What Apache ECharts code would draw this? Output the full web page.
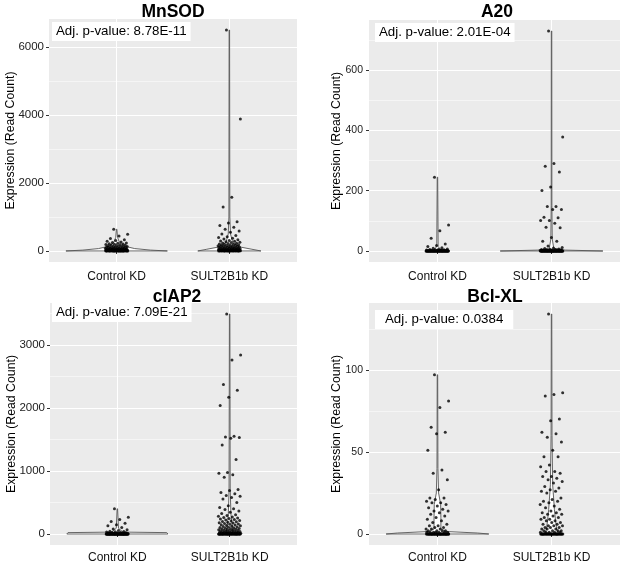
<!DOCTYPE html>
<html><head><meta charset="utf-8">
<script src="https://cdn.jsdelivr.net/npm/echarts@6/dist/echarts.min.js"></script>
<style>html,body{margin:0;padding:0;background:#fff}#c{width:625px;height:566px}</style>
</head><body><div id="c"></div>
<script>
// ---------------- data ----------------
const categories = ['Control KD', 'SULT2B1b KD'];
const geneNames = ['MnSOD', 'A20', 'cIAP2', 'Bcl-XL'];
const pValueLabels = ['Adj. p-value: 8.78E-11', 'Adj. p-value: 2.01E-04', 'Adj. p-value: 7.09E-21', 'Adj. p-value: 0.0384'];
const yAxisTitle = 'Expression (Read Count)';

const mnsodTicks = [0, 2000, 4000, 6000];
const mnsodMinor = [1000, 3000, 5000];
const a20Ticks = [0, 200, 400, 600];
const a20Minor = [100, 300, 500, 700];
const ciap2Ticks = [0, 1000, 2000, 3000];
const ciap2Minor = [500, 1500, 2500, 3500];
const bclTicks = [0, 50, 100];
const bclMinor = [25, 75, 125];

const mnsodControl = [640, 495, 440, 365, 330, 305, 285, 262, 248, 236, 225, 214, 205, 196, 188, 180, 172, 166, 158, 152, 146, 140, 134, 128, 123, 118, 113, 108, 104, 100, 96, 92, 88, 85, 82, 78, 75, 72, 69, 66, 63, 60, 58, 55, 53, 50, 48, 46, 44, 42, 40, 38, 36, 34, 33, 31, 30, 28, 27, 25, 24, 23, 21, 20, 19, 18, 17, 16, 15, 14, 13, 12, 11, 10, 10, 9, 8, 8, 7, 6, 6, 5, 5, 4, 4, 3, 3, 3, 2, 2, 2, 1, 1, 1, 1, 0, 0, 0, 0, 0, 0, 0, 0, 0, 0];
const mnsodSult = [6500, 3880, 1580, 1290, 860, 820, 750, 700, 640, 590, 550, 500, 455, 420, 395, 375, 350, 330, 310, 295, 282, 270, 258, 246, 236, 226, 216, 208, 200, 192, 185, 178, 172, 166, 160, 154, 148, 143, 138, 133, 128, 123, 118, 114, 110, 106, 102, 98, 94, 90, 86, 82, 78, 75, 72, 68, 65, 62, 59, 56, 53, 50, 48, 45, 43, 40, 38, 36, 34, 32, 30, 28, 26, 24, 22, 20, 19, 17, 16, 14, 13, 12, 11, 10, 9, 8, 7, 6, 5, 5, 4, 4, 3, 3, 2, 2, 1, 1, 1, 0, 0, 0, 0, 0, 0, 0, 0, 0];
const a20Control = [245, 86, 67, 42, 23, 18, 15, 11, 9, 7, 6, 5, 4, 4, 3, 3, 2, 2, 2, 1, 1, 1, 1, 1, 1, 0, 0, 0, 0, 0, 0, 0, 0, 0, 0, 0, 0, 0, 0, 0, 0, 0, 0, 0, 0, 0, 0, 0, 0, 0, 0, 0, 0, 0, 0, 0, 0, 0, 0, 0, 0, 0, 0, 0, 0, 0, 0, 0, 0, 0, 0, 0, 0, 0, 0, 0, 0, 0, 0, 0];
const a20Sult = [730, 378, 290, 281, 262, 212, 201, 148, 148, 138, 138, 112, 110, 101, 101, 92, 79, 77, 45, 32, 32, 17, 12, 10, 8, 7, 6, 5, 5, 4, 4, 3, 3, 3, 2, 2, 2, 2, 1, 1, 1, 1, 1, 1, 0, 0, 0, 0, 0, 0, 0, 0, 0, 0, 0, 0, 0, 0, 0, 0, 0, 0, 0, 0, 0, 0, 0, 0, 0, 0, 0, 0, 0, 0, 0, 0, 0, 0, 0, 0, 0, 0, 0, 0, 0, 0, 0, 0, 0, 0, 0, 0, 0, 0, 0, 0, 0, 0, 0, 0];
const ciap2Control = [400, 265, 230, 200, 170, 145, 130, 105, 80, 68, 55, 45, 40, 35, 30, 27, 24, 21, 18, 15, 13, 11, 9, 8, 6, 5, 4, 3, 3, 2, 2, 1, 1, 1, 0, 0, 0, 0, 0, 0, 0, 0, 0, 0, 0, 0, 0, 0, 0, 0, 0, 0, 0, 0, 0, 0, 0, 0, 0, 0, 0, 0, 0, 0, 0, 0, 0, 0, 0, 0, 0, 0, 0, 0, 0, 0, 0, 0, 0, 0, 0, 0, 0, 0, 0, 0, 0, 0, 0, 0];
const ciap2Sult = [3490, 2840, 2760, 2370, 2280, 2170, 2040, 1550, 1540, 1530, 1520, 1410, 1180, 975, 965, 940, 900, 705, 690, 660, 640, 610, 600, 580, 555, 500, 450, 420, 400, 390, 365, 345, 325, 305, 295, 280, 270, 260, 252, 245, 238, 230, 222, 215, 208, 200, 194, 188, 180, 174, 168, 160, 154, 148, 142, 136, 130, 124, 118, 112, 107, 102, 97, 92, 88, 84, 80, 76, 72, 68, 64, 60, 57, 54, 50, 47, 44, 41, 38, 35, 32, 30, 27, 25, 22, 20, 18, 16, 14, 12, 10, 9, 8, 7, 6, 5, 4, 3, 2, 2, 1, 1, 0, 0, 0, 0, 0, 0, 0, 0, 0, 0, 0, 0, 0, 0, 0, 0, 0, 0, 0, 0, 0, 0, 0, 0, 0, 0, 0, 0, 0, 0, 0, 0, 0, 0, 0, 0];
const bclControl = [97, 81, 77, 65, 62, 61, 51, 39, 37, 33, 27, 22, 22, 21, 20, 19, 19, 18, 17, 16, 15, 14, 14, 13, 12, 11, 10, 9, 8, 7, 6, 5, 5, 4, 4, 3, 3, 3, 2, 2, 2, 2, 1, 1, 1, 1, 1, 1, 1, 0, 0, 0, 0, 0, 0, 0, 0, 0, 0, 0, 0, 0, 0, 0, 0, 0, 0, 0, 0, 0, 0, 0, 0, 0, 0, 0, 0, 0, 0, 0, 0, 0, 0, 0, 0, 0, 0, 0, 0, 0, 0, 0, 0, 0, 0];
const bclSult = [134, 86, 85, 84, 70, 69, 62, 61, 59, 56, 51, 47, 47, 42, 41, 38, 38, 37, 35, 35, 34, 33, 32, 31, 29, 28, 27, 26, 26, 25, 22, 21, 20, 20, 19, 18, 17, 16, 15, 14, 13, 13, 12, 12, 11, 10, 10, 9, 9, 8, 8, 7, 7, 6, 6, 5, 5, 5, 4, 4, 4, 3, 3, 3, 2, 2, 2, 2, 1, 1, 1, 1, 1, 0, 0, 0, 0, 0, 0, 0, 0, 0, 0, 0, 0, 0, 0, 0, 0, 0, 0, 0, 0, 0, 0, 0, 0, 0, 0, 0, 0, 0, 0, 0, 0, 0, 0, 0, 0, 0];

// violin half-widths (category units) at expression levels
const mnsodControlViolin = [[0, 0.45], [25, 0.3], [70, 0.16], [140, 0.07], [250, 0.025], [400, 0.008], [640, 0.002]];
const mnsodSultViolin = [[0, 0.28], [50, 0.2], [120, 0.09], [250, 0.03], [500, 0.01], [1000, 0.004], [6500, 0.002]];
const a20ControlViolin = [[0, 0.1], [4, 0.03], [15, 0.006], [245, 0.002]];
const a20SultViolin = [[0, 0.45], [3, 0.12], [8, 0.02], [40, 0.006], [150, 0.003], [730, 0.002]];
const ciap2ControlViolin = [[0, 0.45], [22, 0.44], [30, 0.05], [90, 0.01], [400, 0.002]];
const ciap2SultViolin = [[0, 0.03], [300, 0.012], [700, 0.005], [3490, 0.002]];
const bclControlViolin = [[0, 0.45], [0.6, 0.35], [1.5, 0.08], [3, 0.03], [10, 0.03], [18, 0.028], [25, 0.01], [40, 0.004], [97, 0.002]];
const bclSultViolin = [[0, 0.06], [3, 0.045], [8, 0.035], [15, 0.025], [30, 0.01], [60, 0.004], [134, 0.002]];

// ---------------- chart ----------------
const FONT = '"Liberation Sans", Arial, Helvetica, sans-serif';
const panels = [
  { name: geneNames[0], p: pValueLabels[0], ticks: mnsodTicks, minor: mnsodMinor, groups: [mnsodControl, mnsodSult], violins: [mnsodControlViolin, mnsodSultViolin],
    grid: { left: 49, top: 19, width: 248, height: 243 }, titleX: 173, titleY: 2, box: { left: 52, top: 22, pad: [2, 4] }, nameGap: 32, labelMargin: 5, labelSize: 11.5, xMargin: 9 },
  { name: geneNames[1], p: pValueLabels[1], ticks: a20Ticks, minor: a20Minor, groups: [a20Control, a20Sult], violins: [a20ControlViolin, a20SultViolin],
    grid: { left: 369, top: 20, width: 251, height: 242 }, titleX: 497, titleY: 2, box: { left: 375, top: 23, pad: [2, 4] }, nameGap: 26, labelMargin: 6, labelSize: 10.5, xMargin: 9 },
  { name: geneNames[2], p: pValueLabels[2], ticks: ciap2Ticks, minor: ciap2Minor, groups: [ciap2Control, ciap2Sult], violins: [ciap2ControlViolin, ciap2SultViolin],
    grid: { left: 50, top: 303, width: 247, height: 242 }, titleX: 177, titleY: 287, box: { left: 52, top: 303, pad: [2, 4] }, nameGap: 32, labelMargin: 5, labelSize: 11.5, xMargin: 7 },
  { name: geneNames[3], p: pValueLabels[3], ticks: bclTicks, minor: bclMinor, groups: [bclControl, bclSult], violins: [bclControlViolin, bclSultViolin],
    grid: { left: 369, top: 303, width: 251, height: 242 }, titleX: 495, titleY: 287, box: { left: 375, top: 310, pad: [2, 10] }, nameGap: 26, labelMargin: 6, labelSize: 10.5, xMargin: 7 }
];

const JITTER = 0.1;
function jit(i) { return (((i * 0.6180339887 + 0.37) % 1) - 0.5) * 2 * JITTER; }

const option = { animation: false, backgroundColor: '#fff', grid: [], xAxis: [], yAxis: [], title: [], series: [] };

panels.forEach((pn, gi) => {
  const dmax = Math.max(...pn.groups[0], ...pn.groups[1]);
  const ymin = -0.05 * dmax, ymax = 1.05 * dmax;
  option.grid.push(Object.assign({ show: true, backgroundColor: '#EBEBEB', borderWidth: 0 }, pn.grid));
  option.xAxis.push({
    type: 'value', gridIndex: gi, min: 0.4, max: 2.6,
    axisLine: { show: false },
    axisTick: { show: true, customValues: [1, 2], length: 3, lineStyle: { color: '#333', width: 1 } },
    axisLabel: { customValues: [1, 2], formatter: v => categories[Math.round(v) - 1], margin: pn.xMargin, fontSize: 12, color: '#111', fontFamily: FONT },
    splitLine: { show: true, lineStyle: { color: '#fff', width: 1.1 } }
  });
  option.yAxis[gi] = {
    type: 'value', gridIndex: gi, min: ymin, max: ymax,
    axisLine: { show: false },
    axisTick: { show: true, customValues: pn.ticks, length: 3, lineStyle: { color: '#333', width: 1 } },
    axisLabel: { customValues: pn.ticks, formatter: v => String(Math.round(v)), margin: pn.labelMargin, fontSize: pn.labelSize, color: '#222', fontFamily: FONT },
    splitLine: { show: true, lineStyle: { color: '#fff', width: 1.1 } },
    name: yAxisTitle, nameLocation: 'middle', nameRotate: 90, nameGap: pn.nameGap, nameMoveOverlap: false,
    nameTextStyle: { fontSize: 12.3, color: '#000', fontFamily: FONT }
  };
  option.yAxis[4 + gi] = {
    type: 'value', gridIndex: gi, min: ymin, max: ymax, position: 'left',
    axisLine: { show: false },
    axisTick: { show: false, customValues: pn.minor },
    axisLabel: { show: false, customValues: pn.minor },
    splitLine: { show: true, lineStyle: { color: '#fff', width: 0.5 } }
  };
  option.title.push({
    text: pn.name, left: pn.titleX, top: pn.titleY, textAlign: 'center', padding: 0,
    textStyle: { fontSize: 17.5, fontWeight: 'bold', color: '#000', fontFamily: FONT, lineHeight: 20 }
  });
  option.title.push({
    text: pn.p, left: pn.box.left, top: pn.box.top, padding: pn.box.pad, backgroundColor: '#fff',
    textStyle: { fontSize: 13.3, fontWeight: 'normal', color: '#000', fontFamily: FONT, lineHeight: 15 }
  });
  const profiles = pn.violins;
  option.series.push({
    type: 'custom', xAxisIndex: gi, yAxisIndex: gi, z: 2, silent: true, clip: true,
    data: profiles.map((p, k) => [k + 1, 0]),
    renderItem: function (params, api) {
      const prof = profiles[params.dataIndex];
      const c = params.dataIndex + 1;
      const right = prof.map(([v, w]) => api.coord([c + w, v]));
      const left = prof.slice().reverse().map(([v, w]) => api.coord([c - w, v]));
      return { type: 'polygon', shape: { points: right.concat(left) }, style: { fill: '#fff', stroke: '#555', lineWidth: 0.9 } };
    }
  });
  pn.groups.forEach((vals, k) => {
    option.series.push({
      type: 'scatter', xAxisIndex: gi, yAxisIndex: gi, z: 3, silent: true,
      symbol: 'circle', symbolSize: 3, itemStyle: { color: '#000' },
      data: vals.map((v, i) => [k + 1 + jit(i), v])
    });
  });
});

const chart = echarts.init(document.getElementById('c'), null, { renderer: 'canvas' });
chart.setOption(option);
</script>
</body></html>
